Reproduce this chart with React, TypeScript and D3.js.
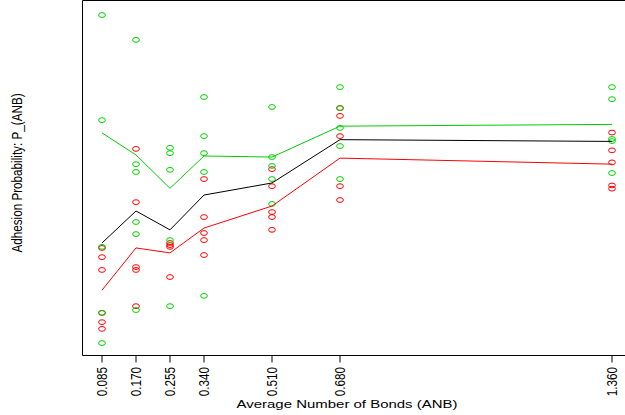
import React from "react";
import * as d3 from "d3";

const anbTicks = [0.085, 0.17, 0.255, 0.34, 0.51, 0.68, 1.36];
const tickLabels = ["0.085", "0.170", "0.255", "0.340", "0.510", "0.680", "1.360"];

// observed adhesion probabilities, green group
const greenPts: [number, number][] = [
  [0.085, 0.959], [0.085, 0.663], [0.085, 0.306], [0.085, 0.12], [0.085, 0.035],
  [0.17, 0.889], [0.17, 0.539], [0.17, 0.517], [0.17, 0.376], [0.17, 0.342], [0.17, 0.128],
  [0.255, 0.585], [0.255, 0.57], [0.255, 0.523], [0.255, 0.325], [0.255, 0.139],
  [0.34, 0.728], [0.34, 0.618], [0.34, 0.57], [0.34, 0.517], [0.34, 0.168],
  [0.51, 0.7], [0.51, 0.559], [0.51, 0.534], [0.51, 0.497], [0.51, 0.427],
  [0.68, 0.756], [0.68, 0.697], [0.68, 0.641], [0.68, 0.59], [0.68, 0.497],
  [1.36, 0.756], [1.36, 0.722], [1.36, 0.61], [1.36, 0.604], [1.36, 0.514],
];

// observed adhesion probabilities, red group
const redPts: [number, number][] = [
  [0.085, 0.303], [0.085, 0.277], [0.085, 0.241], [0.085, 0.12], [0.085, 0.094], [0.085, 0.075],
  [0.17, 0.582], [0.17, 0.432], [0.17, 0.249], [0.17, 0.241], [0.17, 0.139],
  [0.255, 0.317], [0.255, 0.311], [0.255, 0.306], [0.255, 0.221],
  [0.34, 0.497], [0.34, 0.39], [0.34, 0.345], [0.34, 0.325], [0.34, 0.283],
  [0.51, 0.525], [0.51, 0.477], [0.51, 0.404], [0.51, 0.39], [0.51, 0.354],
  [0.68, 0.697], [0.68, 0.675], [0.68, 0.618], [0.68, 0.477], [0.68, 0.438],
  [1.36, 0.628], [1.36, 0.578], [1.36, 0.544], [1.36, 0.479], [1.36, 0.47],
];

const greenLine = [0.627, 0.565, 0.471, 0.562, 0.559, 0.646, 0.651];
const blackLine = [0.317, 0.407, 0.354, 0.452, 0.486, 0.608, 0.603];
const redLine = [0.184, 0.303, 0.289, 0.359, 0.421, 0.556, 0.539];

const W = 625;
const H = 415;
const GREEN = "#00cd00";
const RED = "#ff0000";
const SX = 1.28; // horizontal stretch of the glyphs
const FS = 11.7;

export default function App() {
  const x = d3.scaleLinear().domain([0.085, 1.36]).range([102, 612]);
  const y = d3.scaleLinear().domain([0, 1]).range([355.5, 0.5]);
  const line = d3
    .line<number>()
    .x((_, i) => x(anbTicks[i]))
    .y((d) => y(d));

  const font = "'Liberation Sans', Arial, sans-serif";

  return (
    <svg
      width={W}
      height={H}
      style={{ position: "absolute", left: 0, top: 0, background: "#fff" }}
    >
      <rect x={0} y={0} width={W} height={H} fill="#fff" />
      {/* plot box */}
      <path d="M640,0.5 H82.5 V355.5 H640" fill="none" stroke="#000" strokeWidth={1} />

      {redPts.map(([a, p], i) => (
        <ellipse key={"r" + i} cx={x(a)} cy={y(p)} rx={3.4} ry={2.4} fill="none" stroke={RED} strokeWidth={1} />
      ))}
      {greenPts.map(([a, p], i) => (
        <ellipse key={"g" + i} cx={x(a)} cy={y(p)} rx={3.4} ry={2.4} fill="none" stroke={GREEN} strokeWidth={1} />
      ))}

      <path d={line(greenLine) || ""} fill="none" stroke={GREEN} strokeWidth={1} />
      <path d={line(blackLine) || ""} fill="none" stroke="#000" strokeWidth={1} />
      <path d={line(redLine) || ""} fill="none" stroke={RED} strokeWidth={1} />

      {/* x axis ticks */}
      {anbTicks.map((t, i) => (
        <g key={"t" + i}>
          <line x1={x(t)} x2={x(t)} y1={355.5} y2={362.5} stroke="#000" strokeWidth={1} />
          <text
            transform={`translate(${x(t)},367) scale(${SX},1) rotate(-90)`}
            textAnchor="end"
            dy="0.35em"
            fontFamily={font}
            fontSize={FS}
            fill="#000"
          >
            {tickLabels[i]}
          </text>
        </g>
      ))}

      <text
        transform={`translate(347,408) scale(${SX},1)`}
        textAnchor="middle"
        fontFamily={font}
        fontSize={FS}
        fill="#000"
      >
        Average Number of Bonds (ANB)
      </text>

      <text
        transform={`translate(22,173) scale(${SX},1) rotate(-90)`}
        textAnchor="middle"
        fontFamily={font}
        fontSize={FS}
        fill="#000"
      >
        Adhesion Probability: P_(ANB)
      </text>
    </svg>
  );
}
